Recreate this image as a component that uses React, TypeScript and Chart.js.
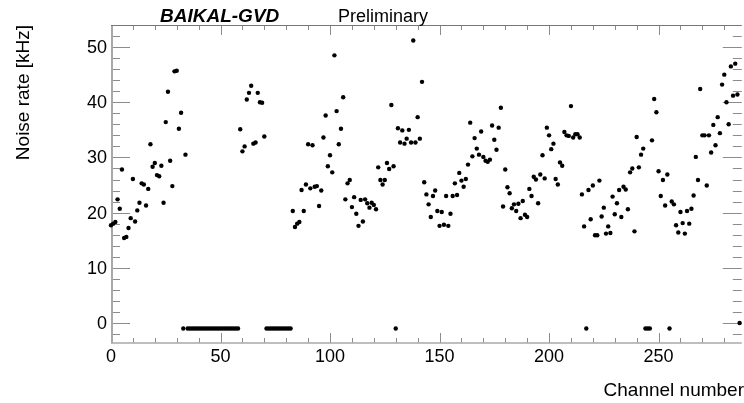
import React, { useEffect, useRef } from "react";
import { Chart, registerables } from "chart.js";

Chart.register(...registerables);

// Noise rate [kHz] per channel (index = channel number)
const noiseRate: number[] = [
  17.7, 18.0, 18.3, 22.4, 20.7, 27.8, 15.4, 15.6, 17.2, 19.0,
  26.1, 18.4, 20.4, 21.8, 25.3, 25.1, 21.3, 24.3, 32.4, 28.3,
  29.0, 26.8, 26.6, 28.5, 21.8, 36.4, 41.9, 29.4, 24.8, 45.6,
  45.7, 35.2, 38.1, -1, 30.5, -1, -1, -1, -1, -1,
  -1, -1, -1, -1, -1, -1, -1, -1, -1, -1,
  -1, -1, -1, -1, -1, -1, -1, -1, -1, 35.1,
  31.1, 32.0, 40.5, 41.7, 43.0, 32.5, 32.7, 41.7, 40.0, 39.9,
  33.8, -1, -1, -1, -1, -1, -1, -1, -1, -1,
  -1, -1, -1, 20.3, 17.4, 18.0, 18.3, 24.1, 20.3, 25.1,
  32.4, 24.4, 32.2, 24.7, 24.8, 21.2, 24.0, 33.6, 37.6, 28.4,
  30.4, 27.3, 48.5, 38.4, 32.4, 35.2, 40.9, 22.4, 25.3, 25.9,
  21.0, 22.8, 19.8, 17.6, 22.3, 18.4, 22.4, 21.7, 20.9, 21.8,
  21.4, 20.6, 28.2, 25.9, 25.1, 25.9, 29.0, 27.9, 39.5, 28.4,
  -1, 35.3, 32.7, 34.9, 32.5, 33.4, 35.0, 32.7, 51.2, 32.7,
  37.3, 33.4, 43.7, 25.5, 23.3, 21.5, 19.2, 23.0, 24.0, 20.3,
  17.6, 20.1, 17.8, 23.0, 17.6, 19.8, 23.0, 25.3, 23.2, 27.2,
  25.8, 24.7, 26.1, 28.7, 36.3, 30.2, 33.5, 31.6, 30.5, 34.7,
  30.1, 29.4, 29.2, 29.6, 35.8, 33.2, 31.4, 35.4, 39.0, 21.1,
  27.8, 24.6, 23.5, 20.8, 21.5, 20.3, 21.6, 19.0, 22.1, 19.6,
  19.2, 24.3, 23.0, 26.5, 26.0, 21.7, 26.9, 30.4, 26.2, 35.4,
  34.0, 31.5, 32.5, 26.1, 25.1, 29.1, 28.5, 34.6, 34.0, 33.9,
  39.3, 33.6, 34.2, 34.2, 33.6, 23.3, 17.5, -1, 24.1, 18.8,
  24.9, 15.9, 15.9, 25.8, 19.3, 20.9, 16.2, 17.5, 16.3, 22.9,
  19.7, 21.7, 24.1, 19.2, 24.7, 24.2, 20.6, 27.3, 28.0, 16.6,
  33.7, 28.2, 30.5, 31.6, -1, -1, -1, 33.1, 40.6, 38.2,
  27.5, 23.0, 25.9, 21.3, 26.9, -1, 22.0, 21.5, 17.7, 16.4,
  20.1, 18.1, 16.2, 20.3, 18.0, 20.7, 23.1, 30.1, 25.9, 42.4,
  34.0, 34.0, 24.9, 34.0, 30.9, 35.9, 32.2, 37.3, 34.4, 43.2,
  45.0, 40.0, 36.0, 46.5, 41.2, 47.0, 41.4, 0,
];

const xMajorTicks = [0, 50, 100, 150, 200, 250];
const xMinorTicks = [10, 20, 30, 40, 60, 70, 80, 90, 110, 120, 130, 140, 160, 170, 180, 190, 210, 220, 230, 240, 260, 270, 280];
const yMajorTicks = [0, 10, 20, 30, 40, 50];
const yMinorTicks = [-2, 2, 4, 6, 8, 12, 14, 16, 18, 22, 24, 26, 28, 32, 34, 36, 38, 42, 44, 46, 48, 52];

const X_MIN = 0;
const X_MAX = 288;
const Y_MIN = -3.63;
const Y_MAX = 54.0;

const FONT = '"Liberation Sans", Arial, Helvetica, sans-serif';

const rootFramePlugin = {
  id: "rootFrame",
  beforeDatasetsDraw(chart: any) {
    const { ctx, chartArea } = chart;
    const xs = chart.scales.x;
    const ys = chart.scales.y;
    const { left, right, top, bottom } = chartArea;
    ctx.save();
    // ticks
    ctx.strokeStyle = "#8c8c8c";
    ctx.lineWidth = 1;
    ctx.beginPath();
    const xt = (v: number, len: number) => {
      const px = Math.round(xs.getPixelForValue(v)) + 0.5;
      ctx.moveTo(px, bottom);
      ctx.lineTo(px, bottom - len);
      ctx.moveTo(px, top);
      ctx.lineTo(px, top + len);
    };
    xMajorTicks.forEach((v) => xt(v, 10));
    xMinorTicks.forEach((v) => xt(v, 5));
    const yt = (v: number, len: number) => {
      const py = Math.round(ys.getPixelForValue(v)) + 0.5;
      ctx.moveTo(left, py);
      ctx.lineTo(left + len, py);
      ctx.moveTo(right, py);
      ctx.lineTo(right - len, py);
    };
    yMajorTicks.forEach((v) => yt(v, 19));
    yMinorTicks.forEach((v) => yt(v, 9));
    ctx.stroke();
    // frame
    ctx.strokeStyle = "#a8a8a8";
    ctx.lineWidth = 2;
    ctx.beginPath();
    ctx.moveTo(left + 1, top);
    ctx.lineTo(left + 1, bottom);
    ctx.stroke();
    ctx.lineWidth = 1.5;
    ctx.beginPath();
    ctx.moveTo(left, bottom);
    ctx.lineTo(right, bottom);
    ctx.stroke();
    ctx.strokeStyle = "#777777";
    ctx.lineWidth = 1;
    ctx.beginPath();
    ctx.moveTo(left, top + 0.5);
    ctx.lineTo(right, top + 0.5);
    ctx.stroke();
    ctx.restore();
  },
  afterDraw(chart: any) {
    const { ctx, chartArea } = chart;
    const xs = chart.scales.x;
    const ys = chart.scales.y;
    const { left, top, bottom } = chartArea;
    ctx.save();
    ctx.fillStyle = "#000000";
    // y tick labels
    ctx.font = `18px ${FONT}`;
    ctx.textAlign = "right";
    ctx.textBaseline = "middle";
    yMajorTicks.forEach((v) => {
      ctx.fillText(String(v), left - 4, ys.getPixelForValue(v) + 1);
    });
    // x tick labels
    ctx.textAlign = "center";
    ctx.textBaseline = "alphabetic";
    xMajorTicks.forEach((v) => {
      ctx.fillText(String(v), xs.getPixelForValue(v), bottom + 19);
    });
    // axis titles
    ctx.font = `19px ${FONT}`;
    ctx.textAlign = "right";
    ctx.fillText("Channel number", 744, 396);
    ctx.save();
    ctx.translate(29, top);
    ctx.rotate(-Math.PI / 2);
    ctx.textAlign = "right";
    ctx.textBaseline = "alphabetic";
    ctx.fillText("Noise rate [kHz]", 0, 0);
    ctx.restore();
    // header
    ctx.textAlign = "left";
    ctx.font = `italic bold 19px ${FONT}`;
    ctx.fillText("BAIKAL-GVD", 160, 22);
    ctx.font = `18px ${FONT}`;
    ctx.fillText("Preliminary", 338, 22);
    ctx.restore();
  },
};

export default function App() {
  const canvasRef = useRef<HTMLCanvasElement | null>(null);

  useEffect(() => {
    const canvas = canvasRef.current;
    if (!canvas) return;
    const points = noiseRate.map((v, i) => ({ x: i, y: v }));
    const chart = new Chart(canvas, {
      type: "scatter",
      data: {
        datasets: [
          {
            data: points,
            backgroundColor: "#000000",
            borderWidth: 0,
            pointRadius: 2.2,
            pointHoverRadius: 2.2,
            clip: false,
          } as any,
        ],
      },
      options: {
        animation: false,
        responsive: false,
        maintainAspectRatio: false,
        events: [],
        layout: { padding: { left: 111, right: 0, top: 25, bottom: 60 } },
        plugins: {
          legend: { display: false },
          tooltip: { enabled: false },
          title: { display: false },
        },
        scales: {
          x: { type: "linear", min: X_MIN, max: X_MAX, display: false },
          y: { type: "linear", min: Y_MIN, max: Y_MAX, display: false },
        },
      },
      plugins: [rootFramePlugin],
    });
    return () => chart.destroy();
  }, []);

  return (
    <div style={{ position: "absolute", left: 0, top: 0, width: 744, height: 403, background: "#ffffff" }}>
      <canvas ref={canvasRef} width={744} height={403} style={{ display: "block", width: 744, height: 403 }} />
    </div>
  );
}
